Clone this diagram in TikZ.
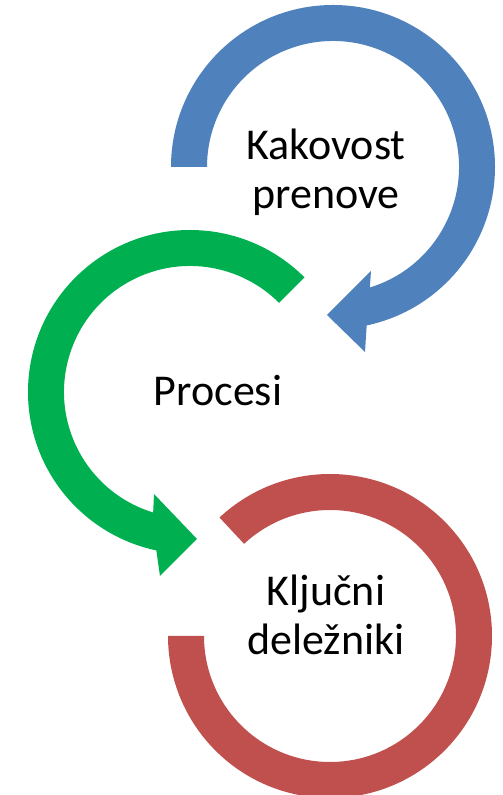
\documentclass[tikz,border=0pt]{standalone}
\usepackage{fontspec}
\setmainfont{Carlito}
\usepackage{tikz}
\usepackage{xcolor}
\usetikzlibrary{calc}
\definecolor{arcblue}{HTML}{4F81BD}
\definecolor{arcgreen}{HTML}{00B050}
\definecolor{arcred}{HTML}{C0504D}

\begin{document}
\begin{tikzpicture}[x=1bp, y=1bp, every node/.style={font=\fontsize{44bp}{49bp}\selectfont, align=center}]
  \useasboundingbox (0,0) rectangle (503,795);
  \coordinate (quality) at (333,628);
  \coordinate (process) at (190,403);
  \coordinate (stake) at (330,159);
  % blue ring, clockwise from the left, head at the bottom
  \fill[arcblue] ($(quality)+(180:162)$) arc[start angle=180, end angle=-78, radius=162]
    -- ($(quality)+(32,-185)$) -- ($(quality)+(-6,-148)$) -- ($(quality)+(38,-104)$)
    -- ($(quality)+(-73:126)$)
    arc[start angle=-73, end angle=180, radius=126] -- cycle;
  % green ring, counter-clockwise
  \fill[arcgreen] ($(process)+(45:162)$) arc[start angle=45, end angle=258, radius=162]
    -- ($(process)+(-30,-184)$) -- ($(process)+(7,-147)$) -- ($(process)+(-36,-102)$)
    -- ($(process)+(253:126)$)
    arc[start angle=253, end angle=45, radius=126] -- cycle;
  % red ring, no head
  \fill[arcred] ($(stake)+(133:162)$) arc[start angle=133, end angle=-180, radius=162]
    -- ($(stake)+(-180:126)$) arc[start angle=-180, end angle=133, radius=126] -- cycle;
  \node (qualitytext) at (326,623) {Kakovost\\prenove};
  \node (processtext) at (218,404) {Procesi};
  \node (staketext) at (326,180) {Ključni\\deležniki};
\end{tikzpicture}
\end{document}
